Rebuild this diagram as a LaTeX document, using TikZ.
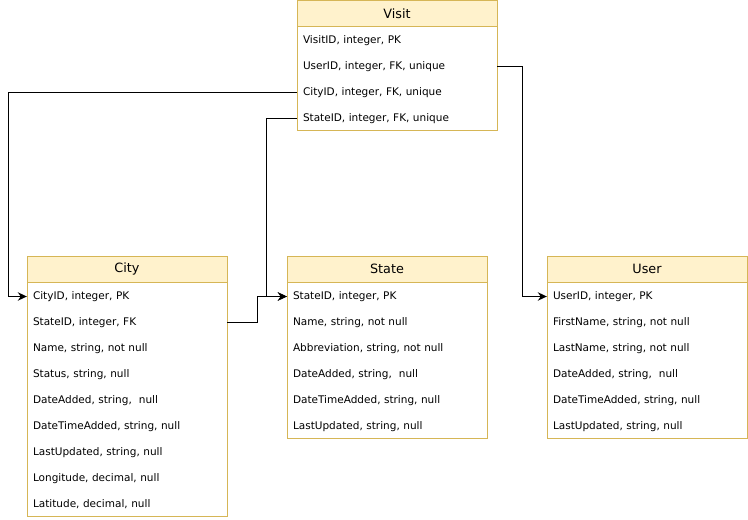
\documentclass[tikz,border=0pt]{standalone}
\usepackage{fontspec}
\setmainfont{DejaVu Sans}
\usetikzlibrary{arrows.meta}

\definecolor{headfill}{HTML}{FFF2CC}
\definecolor{headline}{HTML}{D6B656}

\newcommand{\titlefont}{\fontsize{12.8}{14}\selectfont}
\newcommand{\rowfont}{\fontsize{10.5}{12}\selectfont}

\tikzset{
  tablehead/.style={draw=headline, fill=headfill, line width=1pt, outer sep=0pt, minimum width=200pt, minimum height=26pt, inner sep=0pt, font=\titlefont},
  tablerow/.style={minimum width=200pt, minimum height=26pt, text width=188pt, align=left, inner sep=0pt, font=\rowfont},
  tableframe/.style={draw=headline, line width=1pt},
  link/.style={draw=black, line width=1pt, -{Stealth[length=9pt,width=8.5pt]}}
}

\begin{document}
\begin{tikzpicture}[x=1pt, y=-1pt]

 \useasboundingbox (0,0) rectangle (748,520);

 %%%  tables

 % visit
 \node [tablehead] (visit-head) at (397,13.5) {Visit};
 \foreach \i/\t in {1/{VisitID, integer, PK}, 2/{UserID, integer, FK, unique}, 3/{CityID, integer, FK, unique}, 4/{StateID, integer, FK, unique}}
   \node [tablerow] (visit-\i) at (397,{14.5+26*\i}) {\t};
 \draw [tableframe] (visit-head.south west) rectangle ++(200,104);

 % city
 \node [tablehead] (city-head) at (127,269) {City};
 \foreach \i/\t in {1/{CityID, integer, PK}, 2/{StateID, integer, FK}, 3/{Name, string, not null}, 4/{Status, string, null}, 5/{DateAdded, string, \ null}, 6/{DateTimeAdded, string, null}, 7/{LastUpdated, string, null}, 8/{Longitude, decimal, null}, 9/{Latitude, decimal, null}}
   \node [tablerow] (city-\i) at (127,{270.5+26*\i}) {\t};
 \draw [tableframe] (city-head.south west) rectangle ++(200,234);

 % state
 \node [tablehead] (state-head) at (387,269) {State};
 \foreach \i/\t in {1/{StateID, integer, PK}, 2/{Name, string, not null}, 3/{Abbreviation, string, not null}, 4/{DateAdded, string, \ null}, 5/{DateTimeAdded, string, null}, 6/{LastUpdated, string, null}}
   \node [tablerow] (state-\i) at (387,{270.5+26*\i}) {\t};
 \draw [tableframe] (state-head.south west) rectangle ++(200,156);

 % user
 \node [tablehead] (user-head) at (647,269) {User};
 \foreach \i/\t in {1/{UserID, integer, PK}, 2/{FirstName, string, not null}, 3/{LastName, string, not null}, 4/{DateAdded, string, \ null}, 5/{DateTimeAdded, string, null}, 6/{LastUpdated, string, null}}
   \node [tablerow] (user-\i) at (647,{270.5+26*\i}) {\t};
 \draw [tableframe] (user-head.south west) rectangle ++(200,156);

 %%%  links

 \coordinate (cityjog) at (8,0);
 \draw [link] (visit-2.east) -- ++(25,0) |- (user-1.west);
 \draw [link] (visit-3.west) -- (visit-3.west -| cityjog) |- (city-1.west);
 \draw [link] (visit-4.west) -- ++(-30,0) |- (state-1.west);
 \draw [link] (city-2.east) -- ++(30,0) |- (state-1.west);

\end{tikzpicture}
\end{document}
